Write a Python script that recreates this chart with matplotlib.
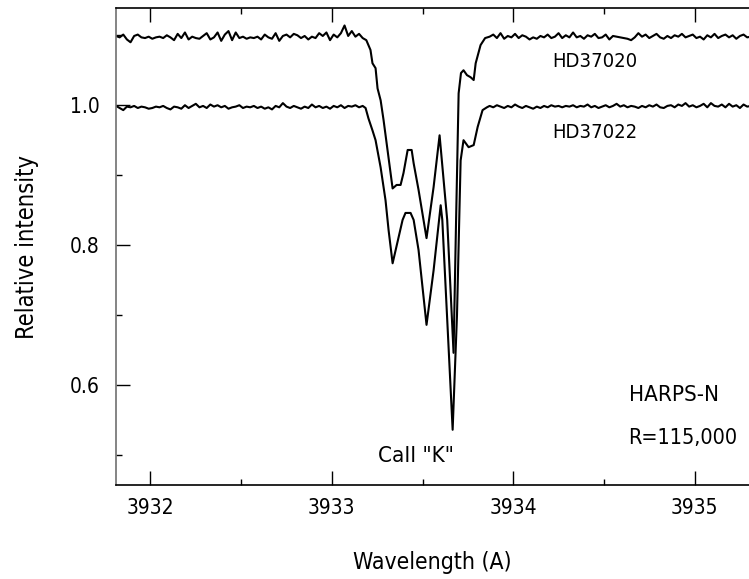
import numpy as np
import matplotlib
matplotlib.use('Agg')
import matplotlib.pyplot as plt
from matplotlib.ticker import MultipleLocator

plt.rcParams['font.family'] = ['DejaVu Sans']
plt.rcParams['font.stretch'] = 'condensed'

#HD37020 - continuo a esquerda (3931.81 .. 3933.19)
hd20_cont_l = [1.099, 1.097, 1.101, 1.094, 1.090, 1.099, 1.101, 1.097, 1.096, 1.098,
               1.095, 1.097, 1.098, 1.096, 1.100, 1.097, 1.093, 1.102, 1.096, 1.104,
               1.094, 1.098, 1.096, 1.095, 1.099, 1.103, 1.094, 1.097, 1.104, 1.092,
               1.101, 1.106, 1.093, 1.104, 1.096, 1.098, 1.095, 1.097, 1.096, 1.098,
               1.094, 1.101, 1.097, 1.095, 1.103, 1.092, 1.099, 1.101, 1.097, 1.102,
               1.100, 1.096, 1.099, 1.094, 1.098, 1.096, 1.103, 1.099, 1.104, 1.093,
               1.101, 1.097, 1.103, 1.114, 1.099, 1.106, 1.098, 1.102, 1.096, 1.093]
#HD37020 - perfil da linha
hd20_prof_wl = [3933.213, 3933.224, 3933.241, 3933.252, 3933.269, 3933.285, 3933.307,
                3933.335, 3933.357, 3933.379, 3933.395, 3933.418, 3933.440, 3933.451,
                3933.478, 3933.522, 3933.561, 3933.594, 3933.636, 3933.671, 3933.685,
                3933.699, 3933.712, 3933.726, 3933.745, 3933.765, 3933.782, 3933.793,
                3933.820, 3933.845]
hd20_prof_fl = [1.079, 1.060, 1.053, 1.024, 1.007, 0.979, 0.936,
                0.881, 0.886, 0.886, 0.903, 0.936, 0.936, 0.917,
                0.879, 0.810, 0.883, 0.957, 0.836, 0.646, 0.836,
                1.017, 1.046, 1.050, 1.043, 1.040, 1.036, 1.060,
                1.086, 1.096]
#HD37020 - continuo a direita (3933.87 .. 3935.31)
hd20_cont_r = [1.098, 1.101, 1.096, 1.103, 1.095, 1.099, 1.097, 1.102, 1.096, 1.100,
               1.098, 1.094, 1.097, 1.095, 1.099, 1.097, 1.101, 1.096, 1.098, 1.103,
               1.096, 1.100, 1.097, 1.104, 1.097, 1.099, 1.095, 1.100, 1.098, 1.102,
               1.096, 1.097, 1.101, 1.094, 1.099, 1.098, 1.097, 1.096, 1.095, 1.093,
               1.097, 1.103, 1.098, 1.101, 1.096, 1.099, 1.102, 1.097, 1.095, 1.099,
               1.096, 1.100, 1.098, 1.102, 1.097, 1.099, 1.101, 1.096, 1.098, 1.094,
               1.100, 1.097, 1.102, 1.096, 1.099, 1.101, 1.097, 1.100, 1.095, 1.099,
               1.101, 1.097, 1.098]

#HD37022 - continuo a esquerda (3931.81 .. 3933.17)
hd22_cont_l = [0.999, 0.996, 0.993, 0.998, 0.997, 0.999, 0.996, 0.998, 0.997, 0.995,
               0.996, 0.998, 0.997, 0.999, 0.996, 0.994, 0.998, 0.997, 0.995, 1.000,
               0.996, 0.999, 1.002, 0.997, 0.999, 0.996, 1.001, 0.998, 1.000, 0.997,
               0.999, 0.995, 0.997, 0.998, 1.000, 0.996, 0.998, 0.997, 0.999, 0.996,
               0.998, 0.995, 0.997, 0.994, 0.999, 0.997, 1.003, 0.998, 0.996, 0.999,
               0.997, 0.995, 0.998, 0.996, 1.001, 0.997, 0.999, 0.996, 0.998, 0.995,
               0.999, 0.997, 1.000, 0.996, 0.999, 0.998, 1.000, 0.997, 0.999]
#HD37022 - perfil da linha
hd22_prof_wl = [3933.186, 3933.202, 3933.224, 3933.241, 3933.269, 3933.296, 3933.313,
                3933.335, 3933.390, 3933.406, 3933.434, 3933.451, 3933.478, 3933.522,
                3933.561, 3933.600, 3933.609, 3933.666, 3933.690, 3933.710, 3933.726,
                3933.754, 3933.782, 3933.804, 3933.831, 3933.855]
hd22_prof_fl = [0.996, 0.981, 0.964, 0.950, 0.911, 0.864, 0.821,
                0.774, 0.836, 0.846, 0.846, 0.836, 0.793, 0.686,
                0.764, 0.857, 0.836, 0.536, 0.700, 0.921, 0.950,
                0.940, 0.943, 0.969, 0.993, 0.997]
#HD37022 - continuo a direita (3933.87 .. 3935.31)
hd22_cont_r = [0.999, 0.997, 1.000, 0.998, 0.996, 0.999, 0.997, 1.001, 0.998, 0.996,
               0.999, 0.997, 0.995, 0.998, 0.996, 0.999, 0.997, 1.000, 0.998, 0.999,
               0.997, 0.999, 0.998, 1.000, 0.997, 0.999, 0.998, 1.001, 0.997, 0.999,
               0.996, 0.998, 1.000, 0.997, 0.999, 1.002, 0.998, 1.000, 0.997, 0.999,
               0.998, 0.996, 0.999, 0.997, 1.000, 0.998, 1.001, 0.997, 0.996, 0.999,
               1.000, 0.997, 1.001, 0.999, 1.003, 0.998, 1.000, 0.997, 0.999, 1.002,
               0.997, 1.003, 0.999, 0.998, 1.001, 0.997, 1.002, 0.998, 1.000, 0.996,
               1.001, 0.998, 0.999]

#Monta espectros completos
def build(cont_l, l_end, prof_wl, prof_fl, cont_r):
    wl = np.concatenate([np.linspace(3931.81, l_end, len(cont_l)), prof_wl,
                         np.linspace(3933.87, 3935.31, len(cont_r))])
    fl = np.concatenate([cont_l, prof_fl, cont_r])
    return wl, fl

wl20, fl20 = build(hd20_cont_l, 3933.19, hd20_prof_wl, hd20_prof_fl, hd20_cont_r)
wl22, fl22 = build(hd22_cont_l, 3933.17, hd22_prof_wl, hd22_prof_fl, hd22_cont_r)

fig = plt.figure(figsize=(7.49, 5.79), dpi=100)
ax = fig.add_axes([0.1549, 0.1623, 0.8451, 0.8239])

ax.plot(wl20, fl20, 'k-', lw=1.5)
ax.plot(wl22, fl22, 'k-', lw=1.5)

ax.set_xlim(3931.81, 3935.30)
ax.set_ylim(0.457, 1.139)

ax.xaxis.set_major_locator(MultipleLocator(1))
ax.xaxis.set_minor_locator(MultipleLocator(0.5))
ax.yaxis.set_major_locator(MultipleLocator(0.2))
ax.yaxis.set_minor_locator(MultipleLocator(0.1))
ax.xaxis.set_major_formatter(plt.FuncFormatter(lambda v, p: '%d' % v))

ax.tick_params(axis='x', which='both', direction='in', top=True, bottom=True)
ax.tick_params(axis='y', which='both', direction='in', left=True, right=False)
ax.tick_params(which='major', length=10, width=1, labelsize=15, pad=9)
ax.tick_params(which='minor', length=4, width=1)
ax.tick_params(axis='y', which='major', pad=12)

ax.spines['right'].set_visible(False)
ax.spines['left'].set_color('#707070')
ax.spines['left'].set_linewidth(1.2)
ax.spines['top'].set_linewidth(1.2)
ax.spines['bottom'].set_linewidth(1.2)

ax.set_xlabel('Wavelength (A)', fontsize=16.5, labelpad=24)
ax.set_ylabel('Relative intensity', fontsize=17, labelpad=22)

ax.text(3934.217, 1.062, 'HD37020', fontsize=14.5, ha='left', va='center')
ax.text(3934.217, 0.961, 'HD37022', fontsize=14.5, ha='left', va='center')
ax.text(3933.252, 0.499, 'CaII "K"', fontsize=16, ha='left', va='center')
ax.text(3934.636, 0.586, 'HARPS-N', fontsize=16, ha='left', va='center')
ax.text(3934.636, 0.524, 'R=115,000', fontsize=15.5, ha='left', va='center')

plt.savefig('out.png', dpi=100)
